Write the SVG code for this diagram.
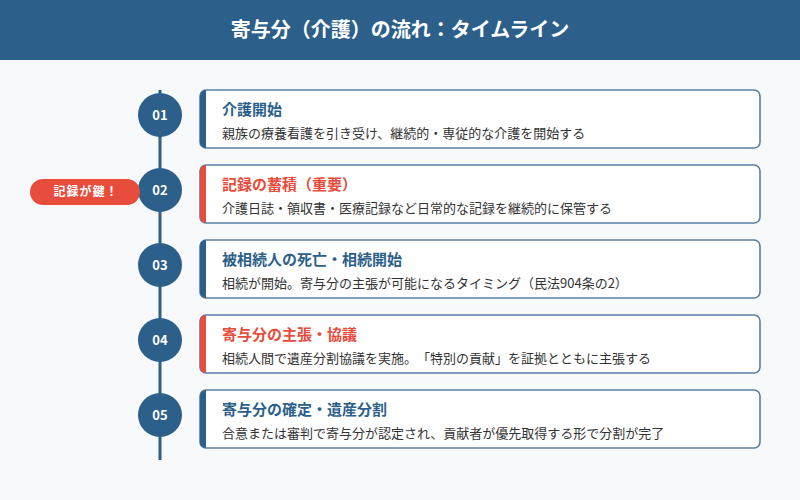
<svg xmlns="http://www.w3.org/2000/svg" width="800" height="500" viewBox="0 0 800 500">
<style>
.bg{fill:#f7f9fb}
.hdr{fill:#2c5f8a}
.htxt{font-family:"Noto Sans CJK JP","Noto Sans",sans-serif;font-size:20px;font-weight:bold;fill:#ffffff}
.card{fill:#ffffff;stroke:#5a7fa3;stroke-width:1.6}
.acc-b{fill:#2c5f8a}
.acc-r{fill:#e74c3c}
.circ{fill:#2c5f8a}
.num{font-family:"Noto Sans CJK JP","Noto Sans",sans-serif;font-size:13px;font-weight:bold;fill:#ffffff}
.ttl{font-family:"Noto Sans CJK JP","Noto Sans",sans-serif;font-size:15px;font-weight:bold}
.tb{fill:#2c5f8a}
.tr{fill:#e74c3c}
.desc{font-family:"Noto Sans CJK JP","Noto Sans",sans-serif;font-size:13px;fill:#333333;text-spacing-trim:space-all}
.badge{fill:#e74c3c}
.btxt{font-family:"Noto Sans CJK JP","Noto Sans",sans-serif;font-size:12px;font-weight:bold;fill:#ffffff;letter-spacing:1px}
</style>
<rect class="bg" x="0" y="0" width="800" height="500"/>
<rect class="hdr" x="0" y="0" width="800" height="60"/>
<text class="htxt" x="400" y="37" text-anchor="middle">寄与分（介護）の流れ：タイムライン</text>
<g id="connectors">
<line x1="160" y1="90" x2="160" y2="460" stroke="#2c5f8a" stroke-width="3"/>
</g>
<g id="step1">
<rect class="card" x="200" y="90" width="560" height="58" rx="6"/>
<path class="acc-b" d="M206,90 v58 a6,6 0 0 1 -6,-6 v-46 a6,6 0 0 1 6,-6 z M200,96 h5 v46 h-5 z"/>
<circle class="circ" cx="160" cy="115" r="22"/>
<text class="num" x="160" y="120" text-anchor="middle">01</text>
<text class="ttl tb" x="222" y="115">介護開始</text>
<text class="desc" x="222" y="138">親族の療養看護を引き受け、継続的・専従的な介護を開始する</text>
</g>
<g id="step2">
<rect class="card" x="200" y="165" width="560" height="58" rx="6"/>
<path class="acc-r" d="M206,165 v58 a6,6 0 0 1 -6,-6 v-46 a6,6 0 0 1 6,-6 z M200,171 h5 v46 h-5 z"/>
<circle class="circ" cx="160" cy="190" r="22"/>
<text class="num" x="160" y="195" text-anchor="middle">02</text>
<text class="ttl tr" x="222" y="190">記録の蓄積（重要）</text>
<text class="desc" x="222" y="213">介護日誌・領収書・医療記録など日常的な記録を継続的に保管する</text>
</g>
<g id="badge">
<rect class="badge" x="30" y="179" width="110" height="26" rx="13"/>
<text class="btxt" x="86" y="196" text-anchor="middle">記録が鍵！</text>
</g>
<g id="step3">
<rect class="card" x="200" y="240" width="560" height="58" rx="6"/>
<path class="acc-b" d="M206,240 v58 a6,6 0 0 1 -6,-6 v-46 a6,6 0 0 1 6,-6 z M200,246 h5 v46 h-5 z"/>
<circle class="circ" cx="160" cy="265" r="22"/>
<text class="num" x="160" y="270" text-anchor="middle">03</text>
<text class="ttl tb" x="222" y="265">被相続人の死亡・相続開始</text>
<text class="desc" x="222" y="288">相続が開始。寄与分の主張が可能になるタイミング（民法904条の2）</text>
</g>
<g id="step4">
<rect class="card" x="200" y="315" width="560" height="58" rx="6"/>
<path class="acc-r" d="M206,315 v58 a6,6 0 0 1 -6,-6 v-46 a6,6 0 0 1 6,-6 z M200,321 h5 v46 h-5 z"/>
<circle class="circ" cx="160" cy="340" r="22"/>
<text class="num" x="160" y="345" text-anchor="middle">04</text>
<text class="ttl tr" x="222" y="340">寄与分の主張・協議</text>
<text class="desc" x="222" y="363">相続人間で遺産分割協議を実施。「特別の貢献」を証拠とともに主張する</text>
</g>
<g id="step5">
<rect class="card" x="200" y="390" width="560" height="58" rx="6"/>
<path class="acc-b" d="M206,390 v58 a6,6 0 0 1 -6,-6 v-46 a6,6 0 0 1 6,-6 z M200,396 h5 v46 h-5 z"/>
<circle class="circ" cx="160" cy="415" r="22"/>
<text class="num" x="160" y="420" text-anchor="middle">05</text>
<text class="ttl tb" x="222" y="415">寄与分の確定・遺産分割</text>
<text class="desc" x="222" y="438">合意または審判で寄与分が認定され、貢献者が優先取得する形で分割が完了</text>
</g>
</svg>
